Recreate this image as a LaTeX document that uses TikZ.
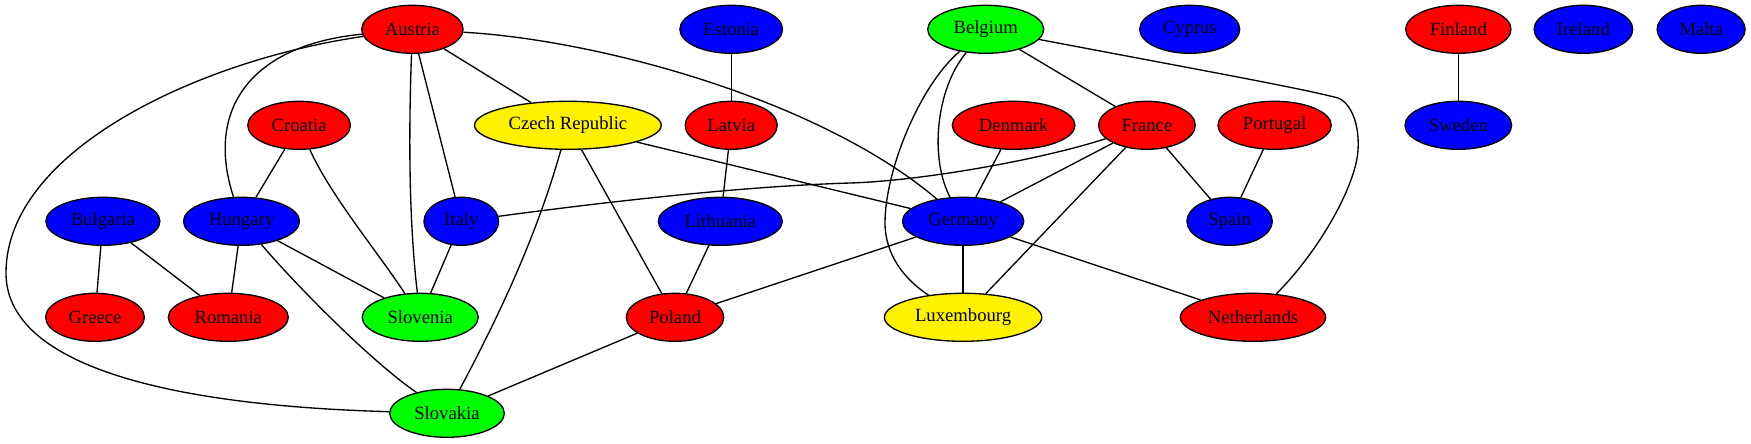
\documentclass[tikz,border=0pt]{standalone}
\usepackage{fontspec}
\setmainfont{Liberation Serif}
\usetikzlibrary{shapes.geometric}
\tikzset{
  country/.style={ellipse, draw=black, line width=1pt, minimum height=36pt, inner sep=0pt,
    font=\fontsize{14}{16}\selectfont},
  nred/.style={country, fill=red},
  nblue/.style={country, fill=blue},
  ngreen/.style={country, fill=green},
  nyellow/.style={country, fill=yellow},
  link/.style={draw=black, line width=1pt}
}
\begin{document}
\begin{tikzpicture}[x=0.75pt,y=-0.75pt]
\useasboundingbox (0,0) rectangle (1751,443);
% rank 1
\node[nred,   minimum width=76pt] (Austria)  at (412.4,29.3) {Austria};
\node[nblue,  minimum width=77pt] (Estonia)  at (731.2,29.3) {Estonia};
\node[ngreen, minimum width=87pt] (Belgium)  at (985.7,29.3) {Belgium};
\node[nblue,  minimum width=75pt] (Cyprus)   at (1189.7,29.3) {Cyprus};
\node[nred,   minimum width=79pt] (Finland)  at (1458.3,29.3) {Finland};
\node[nblue,  minimum width=74pt] (Ireland)  at (1583.4,29.3) {Ireland};
\node[nblue,  minimum width=66pt] (Malta)    at (1701.1,29.3) {Malta};
% rank 2
\node[nred,    minimum width=77pt]  (Croatia)  at (299.1,125.3) {Croatia};
\node[nyellow, minimum width=140pt] (Czech)    at (567.9,125.3) {Czech Republic};
\node[nred,    minimum width=69pt]  (Latvia)   at (731.2,125.3) {Latvia};
\node[nred,    minimum width=92pt]  (Denmark)  at (1013.6,125.3) {Denmark};
\node[nred,    minimum width=72.5pt] (France)  at (1146.9,125.3) {France};
\node[nred,    minimum width=85pt]  (Portugal) at (1274.6,125.3) {Portugal};
\node[nblue,   minimum width=80pt]  (Sweden)   at (1458.3,125.3) {Sweden};
% rank 3
\node[nblue, minimum width=85.5pt] (Bulgaria)  at (102.9,221.3) {Bulgaria};
\node[nblue, minimum width=87pt]   (Hungary)   at (241.5,221.3) {Hungary};
\node[nblue, minimum width=56pt]   (Italy)     at (461.3,221.3) {Italy};
\node[nblue, minimum width=93pt]   (Lithuania) at (720.3,221.3) {Lithuania};
\node[nblue, minimum width=91pt]   (Germany)   at (963.1,221.3) {Germany};
\node[nblue, minimum width=64pt]   (Spain)     at (1229.6,221.3) {Spain};
% rank 4
\node[nred,    minimum width=74pt]  (Greece)      at (95,317.3) {Greece};
\node[nred,    minimum width=90pt]  (Romania)     at (228.3,317.3) {Romania};
\node[ngreen,  minimum width=87pt]  (Slovenia)    at (420.2,317.3) {Slovenia};
\node[nred,    minimum width=73pt]  (Poland)      at (675,317.3) {Poland};
\node[nyellow, minimum width=118pt] (Luxembourg)  at (963.1,317.3) {Luxembourg};
\node[nred,    minimum width=109pt] (Netherlands) at (1253,317.3) {Netherlands};
% rank 5
\node[ngreen, minimum width=86pt] (Slovakia) at (447,413.3) {Slovakia};

% straight edges
\draw[link] (Austria) -- (Czech);
\draw[link] (Austria) -- (Italy);
\draw[link] (Estonia) -- (Latvia);
\draw[link] (Latvia) -- (Lithuania);
\draw[link] (Lithuania) -- (Poland);
\draw[link] (Belgium) -- (France);
\draw[link] (Croatia) -- (Hungary);
\draw[link] (Czech) -- (Germany);
\draw[link] (Czech) -- (Poland);
\draw[link] (Denmark) -- (Germany);
\draw[link] (France) -- (Germany);
\draw[link] (France) -- (Spain);
\draw[link] (France) -- (Luxembourg);
\draw[link] (Portugal) -- (Spain);
\draw[link] (Finland) -- (Sweden);
\draw[link] (Bulgaria) -- (Greece);
\draw[link] (Bulgaria) -- (Romania);
\draw[link] (Hungary) -- (Romania);
\draw[link] (Hungary) -- (Slovenia);
\draw[link] (Italy) -- (Slovenia);
\draw[link] (Germany) -- (Poland);
\draw[link] (Germany) -- (Luxembourg);
\draw[link] (Germany) -- (Netherlands);
\draw[link] (Poland) -- (Slovakia);

% curved edges
\draw[link] (Austria) .. controls (600,40) and (820,100) .. (Germany);
\draw[link] (Austria) .. controls (250,45) and (205,110) .. (Hungary);
\draw[link] (Austria) .. controls (200,60) and (6,150) .. (6,273)
                      .. controls (6,360) and (150,405) .. (Slovakia);
\draw[link] (Austria) .. controls (408,150) and (410,230) .. (Slovenia);
\draw[link] (Czech) .. controls (537,234) and (502,310) .. (Slovakia);
\draw[link] (Croatia) .. controls (330,195) and (380,255) .. (Slovenia);
\draw[link] (Hungary) .. controls (299.5,289) and (373,362.7) .. (Slovakia);
\draw[link] (Belgium) .. controls (920,85) and (885,170) .. (885,223)
                      .. controls (885,255) and (905,280) .. (Luxembourg);
\draw[link] (Belgium) .. controls (935,90) and (930,160) .. (Germany);
\draw[link] (Belgium) .. controls (1200,70) and (1300,88) .. (1338,98)
                      .. controls (1345,100) and (1360,115) .. (1358,150)
                      .. controls (1356,185) and (1320,250) .. (Netherlands);
\draw[link] (Italy) .. controls (620,200) and (750,186) .. (850,183)
                    .. controls (920,181) and (1040,160) .. (France);
\end{tikzpicture}
\end{document}
